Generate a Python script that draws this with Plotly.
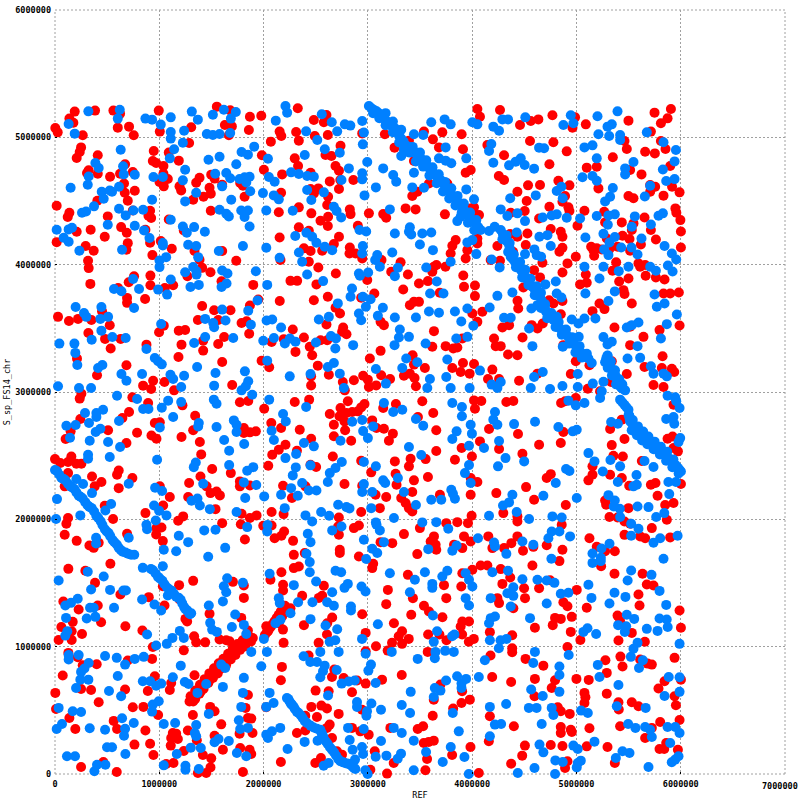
import plotly.graph_objects as go

# Values in thousands of bases: (REF position, S_sp_FS14_chr position)
x_ticks = [0, 1000000, 2000000, 3000000, 4000000, 5000000, 6000000, 7000000]
y_ticks = [0, 1000000, 2000000, 3000000, 4000000, 5000000, 6000000]

red_top_left = [(3,5073),(26,5039),(189,5202),(138,5147),(176,5115),(384,5210),(560,5210),(624,5186),(602,5076),(710,5084),(755,5016),(266,5016),(250,4921),(237,4885),(208,4838),(410,4859),(323,4741),(307,4720),(410,4714),(528,4691),(672,4788),(746,4728),(624,4714),(662,4638),(669,4565),(698,4502),(765,4581),(406,4502),(16,4463),(138,4408),(122,4374),(506,4379),(208,4259),(342,4274),(477,4219),(16,4177),(294,4146),(371,4109),(317,4031),(323,3973),(634,4295),(688,4251),(698,4169),(685,4117),(746,4426),(912,4424),(896,4384),(922,4366),(867,4274),(912,4172),(1014,4185),(934,4075),(1120,4125),(1091,4355),(1235,4269),(947,4893),(1091,4880),(938,4814),(970,4798),(1040,4775),(1187,4817),(1286,4955),(1306,5079),(1005,5045),(995,5210),(1552,5241),(1667,5016),(1629,5097),(1696,5086),(1680,5212),(1869,5162),(1978,5170),(1859,5058),(2070,4966),(1984,4859),(2003,4746),(1818,4534),(1776,4641),(1802,4620),(1603,4628),(1482,4604),(1494,4557),(1424,4534),(1325,4510),(1386,4683),(1354,4644),(1194,4615),(1210,4583),(1498,4707),(1530,4676),(1494,4424),(1082,4673),(1040,4714),(1002,4649),(1043,4615),(1338,4107),(1603,4107),(1738,4031),(1386,4039)]
blue_top_left = [(320,5204),(621,5217),(602,5147),(131,5105),(189,5029),(867,5147),(931,5139),(1110,5157),(1014,5100),(1110,5042),(1110,4990),(1238,5052),(1312,5202),(1370,5139),(1514,5178),(1619,5217),(1734,5199),(1686,5147),(1680,5034),(1578,5026),(1514,5018),(1456,5026),(1226,4958),(1142,4906),(1101,4835),(630,4903),(387,4798),(419,4759),(653,4772),(659,4709),(765,4707),(323,4693),(314,4628),(150,4604),(614,4612),(547,4573),(525,4583),(448,4573),(467,4518),(374,4458),(298,4418),(259,4408),(614,4439),(678,4387),(752,4426),(845,4431),(931,4510),(506,4314),(765,4306),(854,4269),(906,4209),(16,4274),(131,4277),(163,4290),(83,4211),(131,4180),(234,4109),(643,4117),(1110,4353),(1226,4300),(1264,4251),(1334,4295),(1437,4259),(1277,4156),(1354,4146),(1373,4059),(1034,4151),(1571,4107),(1802,4146),(2026,4133),(1002,4033),(1066,4059),(1002,3981),(1034,4170),(944,4688),(1034,4688),(1226,4662),(1248,4746),(1472,4824),(1578,4848),(1738,4788),(1789,4885),(1850,4864),(1910,4927),(2042,4832),(1536,4714),(1642,4720),(1680,4678),(1770,4673),(1818,4686),(1866,4690),(1834,4646),(1872,4576),(1994,4562),(1603,4615),(1354,4565),(1248,4497),(1690,4510),(1578,4431),(1642,4400),(1667,4379),(1786,4426),(1850,4426),(1818,4374),(1866,4300),(2026,4426),(2051,4688)]

red_bottom_left = [(90,1863),(208,1831),(330,1795),(371,1776),(419,1816),(688,1886),(970,1881),(1034,1829),(531,1651),(128,1611),(291,1596),(384,1501),(627,1410),(899,1389),(410,1323),(227,1292),(80,1355),(442,1192),(170,1195),(61,1155),(675,1161),(160,1121),(259,1100),(35,1053),(160,1053),(838,1127),(1050,1323),(1034,1475),(1190,1483),(1325,1517),(1194,1370),(1251,1218),(1267,1197),(1334,1081),(1354,1034),(1440,1034),(1235,971),(938,998),(128,951),(218,917),(266,854),(400,862),(74,773),(250,668),(346,660),(3,637),(672,663),(698,891),(931,904),(957,768),(890,652),(1114,715),(1101,660),(1338,775),(419,563),(10,511),(138,440),(563,417),(195,354),(595,354),(746,524),(848,527),(989,464),(867,341),(1274,341),(912,238),(762,231),(944,149),(250,55),(464,94),(592,16),(1130,322),(1162,317),(1114,283),(1178,275),(1110,223),(1235,181),(1360,265),(1418,149),(1498,123),(1491,52),(1450,8),(1370,8),(1136,86),(1066,79),(1322,464),(1488,527),(1530,493),(1530,301),(1594,390),(1610,191),(1776,204),(1866,191),(1882,157),(1802,16),(1770,317),(1894,322),(1850,440),(1882,435),(1827,519),(1850,621),(2026,524),(1706,1509),(1811,1480),(1811,1383),(1821,1841),(1482,1258),(1786,1226),(1578,1056),(1642,1051),(1674,1043),(1850,1127),(2026,1161),(2042,1121)]
blue_bottom_left = [(394,1855),(394,1810),(707,1855),(899,1894),(1187,1873),(1277,1821),(1043,1761),(1162,1750),(1632,1776),(1469,1706),(842,1619),(1034,1632),(314,1588),(467,1551),(35,1520),(346,1449),(528,1446),(656,1441),(680,1441),(1651,1537),(1802,1501),(1619,1475),(1642,1428),(2058,1572),(835,1370),(218,1376),(154,1344),(99,1323),(954,1331),(1082,1402),(336,1305),(371,1305),(566,1305),(1018,1284),(1610,1355),(1475,1323),(304,1221),(387,1234),(106,1226),(1728,1252),(1488,1187),(1696,1155),(1811,1171),(1507,1134),(1552,1116),(1834,1100),(118,1121),(99,1087),(883,1095),(1197,1124),(1235,1069),(1126,1069),(1072,1022),(970,1009),(2003,1061),(2032,959),(1882,959),(131,935),(131,899),(227,935),(480,927),(592,912),(765,904),(851,920),(672,859),(323,872),(282,828),(250,802),(1206,851),(1978,846),(1594,859),(1632,833),(602,770),(243,741),(320,741),(1811,755),(1130,760),(842,728),(912,728),(970,694),(1018,710),(1245,723),(1280,707),(1450,707),(1610,684),(202,676),(518,652),(634,610),(1366,637),(1802,637),(2058,637),(1786,527),(2026,527),(995,571),(938,545),(931,490),(35,519),(170,493),(250,487),(1475,472),(643,438),(67,393),(16,354),(333,359),(480,348),(672,356),(755,401),(662,301),(1043,393),(1152,401),(1354,385),(1341,322),(1354,296),(1763,422),(1776,354),(1850,362),(2026,309),(2042,283),(1530,249),(1568,275),(1667,259),(1302,207),(1398,204),(1744,165),(1834,139),(499,210),(547,210),(115,139),(192,139),(675,157),(1168,157),(403,73),(378,21),(483,73),(1043,68),(1251,65),(1251,34),(1379,39)]

red_bottom_right = [(4715,1797),(4587,1784),(4866,1761),(4837,1672),(4571,1645),(5125,1855),(5106,1803),(5195,1784),(5275,1750),(5368,1750),(5237,1632),(5461,1881),(5659,1855),(5909,1847),(5365,1572),(5634,1572),(5675,1488),(5739,1480),(4747,1522),(4651,1462),(5003,1446),(5595,1410),(5605,1323),(5099,1305),(4875,1349),(4914,1318),(5989,1284),(5394,1244),(5419,1200),(4795,1226),(4850,1218),(4955,1234),(4773,1169),(4597,1148),(4946,1116),(5038,1053),(5403,1048),(5656,1038),(5531,1108),(6002,1148),(4914,998),(5278,893),(5422,922),(5442,844),(5941,912),(5611,899),(5682,867),(5723,859),(4683,851),(5291,794),(4597,747),(5000,747),(5118,739),(4795,736),(4763,676),(4597,610),(5845,728),(6002,741),(5787,671),(5077,637),(5086,603),(5077,558),(5291,631),(5531,563),(5595,532),(5403,563),(5406,506),(4821,524),(4850,493),(4936,472),(5941,610),(5954,540),(5989,424),(5803,409),(5419,375),(5125,359),(4850,369),(4850,322),(4946,348),(4956,330),(5659,283),(5723,362),(5861,244),(5797,197),(5842,197),(5973,191),(4754,228),(4866,220),(5099,217),(5298,212),(5368,86),(4914,100),(4891,47)]
blue_bottom_right = [(5525,1873),(5595,1920),(5970,1873),(5810,1850),(5739,1816),(5317,1808),(5240,1771),(5154,1732),(5234,1698),(5234,1672),(5154,1658),(5835,1690),(4760,1690),(4581,1803),(4731,1847),(4763,1894),(4837,1881),(4933,1868),(4946,1829),(5525,1598),(5720,1564),(5491,1520),(5115,1486),(4626,1522),(4715,1520),(4789,1501),(5365,1423),(5797,1438),(4850,1415),(4923,1423),(5144,1383),(5470,1391),(5317,1339),(4715,1339),(5861,1328),(5483,1250),(5554,1218),(5797,1221),(5866,1213),(4555,1226),(5875,1155),(5400,1169),(5477,1161),(5675,1140),(5778,1124),(5464,1116),(5106,1145),(5067,1116),(5189,1100),(5586,1030),(5547,983),(5989,1022),(4597,959),(4926,935),(5522,920),(5637,893),(4581,872),(4837,844),(5205,857),(5600,833),(4837,778),(5221,762),(5885,762),(5989,760),(5403,699),(5989,645),(4837,645),(4677,613),(5845,613),(4555,658),(5387,532),(5664,519),(5045,498),(5109,479),(4763,519),(4779,464),(4603,519),(4667,393),(5496,393),(5566,362),(5659,369),(5707,348),(5723,291),(5874,369),(5947,369),(5989,322),(5899,244),(5173,254),(4971,223),(5013,197),(4651,228),(4683,170),(5442,178),(5509,165),(5378,126),(5979,139),(5947,113),(5914,92),(4798,107),(4869,94),(5042,105),(5013,86),(5003,52),(4587,47),(4795,0),(5691,55)]

red_upper_mid = [(2328,5228),(2091,4966),(2154,5045),(2170,5010),(2312,5042),(2338,4974),(2482,5136),(2578,5118),(2603,5176),(2491,5010),(2616,5018),(2946,5031),(2738,4934),(2594,4861),(2651,4853),(2299,4835),(2331,4775),(2178,4709),(2451,4722),(2690,4775),(2723,4738),(2635,4654),(2736,4665),(2861,4665),(2723,4594),(2451,4594),(2525,4599),(2483,4560),(2168,4565),(2619,4534),(2610,4468),(2338,4450),(2146,4411),(2458,4403),(2619,4376),(2546,4345),(2616,4303),(2827,4434),(2834,4397),(3010,4403),(3147,4397),(3176,4369),(3362,4442),(3458,4434),(3739,4395),(2904,4306),(2338,4293),(2154,4214),(2434,4266),(2723,4219),(2674,4162),(2827,4135),(2387,4128),(2451,4107),(2562,4109),(2824,4088),(2882,4088),(2946,4049),(2434,4023),(2162,4036),(2525,3978),(2693,3931),(2258,3873),(2322,3873),(2507,3845),(2994,3879),(3131,4036),(3314,4018),(3224,3944),(3384,3923),(3490,3852),(3576,3871),(3339,3805),(3632,3983),(3658,3997),(3618,3944),(3744,3983),(3915,3915),(4027,3837),(3922,3826),(3690,3779),(4027,3753),(2155,3714),(2482,3721),(2616,3748),(2936,3740),(3062,3774),(2690,3661),(2733,3617),(3490,3708),(3442,3708),(3403,3682),(2603,3530),(2763,3507),(2753,3473),(2795,3454),(2280,3491),(2387,3428),(3122,3551),(3154,3525),(3634,3478),(4002,3617),(4098,3630),(4050,3551),(4290,3507),(4354,3525),(4435,3716),(4442,3656),(4483,3428),(4626,3499),(4210,3420),(4226,3360),(4274,3360),(2104,3394),(2194,3415),(2546,3407),(2610,3407),(2443,3355),(2466,3289),(2306,3315),(3122,3323),(3618,3355),(3746,3360),(3819,3342),(3858,3349),(3906,3420),(3019,3263),(3429,3289),(4344,3294),(4434,3289),(4050,5223),(4075,5162),(4267,5215),(4459,5097),(4562,5128),(4635,5141),(4555,4971),(3538,5045),(3714,5039),(3899,5024),(3624,4984),(3682,4921),(3912,4906),(3256,4919),(3163,5024),(3394,4974),(3442,4814),(4306,4859),(4146,4940),(4256,4696),(4306,4665),(4536,4623),(4651,4625),(4434,4573),(4523,4500),(4504,4421),(4370,4408),(4642,4363),(4530,4245),(4434,4219),(4363,4240),(4242,4146),(4514,4154),(4392,4101),(4267,4031),(4178,4036),(4594,3957),(4491,3821),(4651,3900),(3810,4149),(3794,4088),(3842,4193),(3954,4114),(3938,4049),(4050,4167),(4050,4206),(4018,4450),(4066,4390),(3986,4442),(3586,4638),(3762,4638),(3474,4573),(3426,4539),(3986,4743),(3938,4722)]
blue_upper_mid = [(2210,5246),(2226,5194),(2117,5131),(2408,5047),(2558,5181),(2654,5118),(2706,5047),(2779,5102),(2832,5092),(2946,5128),(2962,5037),(2952,4945),(2515,4979),(2587,4906),(2395,4861),(2731,4879),(2994,4806),(2818,4756),(2946,4717),(2946,4670),(2264,4725),(2338,4712),(2418,4696),(2482,4691),(2074,4678),(2106,4652),(2747,4665),(3147,4756),(3243,4704),(3272,4652),(3077,4607),(2418,4586),(2578,4568),(2968,4544),(2098,4544),(2146,4513),(2458,4508),(2280,4424),(2674,4455),(2700,4421),(2744,4371),(3211,4434),(2920,4272),(2984,4261),(2411,4251),(2466,4219),(2507,4172),(2304,4225),(2587,4141),(2658,4114),(2339,4096),(2952,4146),(2946,4088),(2154,4054),(2370,4023),(3090,4075),(3070,4036),(3115,3983),(3234,4096),(3259,4245),(3403,4293),(3394,4258),(3416,4237),(3522,4245),(3608,4253),(3499,4159),(3624,4114),(3288,3976),(3259,3910),(3560,3978),(3794,4023),(2914,3931),(3003,3939),(2924,3913),(2418,3923),(2571,3871),(3661,3868),(3725,3774),(3597,3774),(2848,3813),(2834,3748),(2952,3748),(3026,3729),(2981,3669),(2712,3696),(3144,3661),(3096,3598),(2914,3617),(2936,3564),(3259,3585),(3461,3585),(3586,3632),(3682,3622),(3835,3632),(3954,3656),(4168,3664),(4242,3755),(4386,3782),(3896,3554),(4011,3520),(4306,3583),(4370,3583),(4546,3499),(4568,3656),(4626,3682),(2530,3570),(2626,3590),(3307,3491),(3298,3428),(3394,3433),(3256,3368),(2859,3368),(2694,3420),(2646,3439),(2502,3389),(2688,3342),(2306,3394),(2252,3420),(2204,3381),(2117,3420),(2168,3507),(2098,3570),(3554,3381),(3954,3433),(3848,3420),(4578,3360),(3368,3263),(3762,3255),(3608,5118),(3736,5141),(3794,5102),(4002,5118),(4050,5102),(4203,5084),(4258,5052),(4290,5141),(4344,5141),(4510,5157),(3442,5024),(3531,5018),(3320,4853),(3746,4921),(3442,4722),(3944,4835),(3682,4835),(3746,4817),(3800,4796),(4203,4801),(4162,4893),(4184,4948),(4354,4780),(4418,4809),(4466,4835),(4504,4783),(4594,4754),(4642,4919),(3426,4607),(3538,4604),(3944,4591),(4018,4513),(4274,4434),(4365,4521),(4610,4544),(4338,4382),(4434,4403),(4507,4342),(3858,4342),(3890,4376),(4162,4264),(4216,4298),(4427,4253),(3954,4175),(4002,4193),(4040,4083),(4187,4041),(4264,3978),(4507,4083)]

red_upper_right = [(5906,5223),(5749,5194),(5874,5149),(5810,5110),(5499,5131),(5090,5102),(4962,5076),(4987,5157),(4770,5173),(4645,5141),(5714,5045),(4779,4961),(5810,4971),(5461,4971),(5483,4908),(5659,4887),(5752,4874),(5854,4908),(4907,4890),(5349,4843),(4741,4788),(5195,4769),(5099,4762),(5899,4775),(5515,4743),(5624,4709),(4827,4659),(4658,4623),(4933,4623),(5211,4599),(5707,4625),(5755,4612),(5917,4612),(5707,4573),(5989,4568),(5835,4542),(5499,4539),(5547,4521),(4891,4539),(4866,4494),(4741,4455),(4923,4450),(4933,4421),(5077,4424),(5266,4416),(5949,4442),(5958,4408),(5997,4350),(5653,4371),(5435,4332),(5275,4332),(5010,4306),(4654,4314),(4674,4408),(4754,4280),(4850,4259),(4866,4219),(5547,4324),(5531,4272),(5714,4272),(6002,4261),(5762,4198),(5442,4227),(5291,4206),(5509,4201),(5618,4159),(6002,4135),(5394,4141),(4866,4133),(4837,4101),(5141,4141),(5163,4114),(5195,4128),(5170,4070),(5243,4120),(5314,4120),(5515,4109),(4994,4062),(4674,4015),(4914,4010),(5381,4018),(5595,4010),(5611,3983),(5659,3997),(5346,3952),(5664,3913),(5762,3900),(5845,3884),(4866,3939),(5090,3923),(4587,3957),(4645,3892),(5035,3845),(5099,3858),(5410,3868),(5499,3892),(5451,3800),(5461,3769),(5835,3774),(5899,3774),(5982,3782),(5531,3695),(5221,3695),(5269,3651),(5154,3635),(4738,3721),(4779,3695),(4866,3714),(4850,3611),(4571,3525),(4635,3499),(4677,3538),(5365,3507),(5643,3433),(5515,3368),(5515,3512),(5797,3486),(5989,3522),(5826,3281),(4875,3368)]
blue_upper_right = [(5394,5204),(4946,5173),(5202,5165),(4875,5097),(4971,5110),(5339,5102),(5298,5084),(5211,5024),(5314,5010),(5419,5018),(5419,4979),(5675,5039),(5835,4961),(5954,4900),(5077,4921),(5154,4937),(4651,4919),(4690,4914),(5195,4835),(5547,4806),(5941,4811),(5467,4756),(5467,4709),(5829,4748),(4587,4756),(5058,4686),(5154,4696),(5195,4659),(5861,4657),(5941,4672),(4856,4612),(4811,4578),(5349,4602),(5707,4620),(5656,4536),(4606,4542),(4869,4521),(5323,4534),(5275,4497),(4811,4395),(4763,4387),(4677,4371),(4907,4369),(5035,4363),(5195,4382),(5307,4387),(5368,4395),(5301,4314),(5560,4379),(5787,4384),(5829,4403),(5714,4316),(5531,4298),(5086,4214),(5259,4243),(5368,4217),(5317,4175),(5624,4206),(4722,4232),(4645,4219),(4754,4146),(5429,4135),(5528,4135),(5266,4120),(5307,4075),(5845,4146),(5915,4088),(5586,4080),(5957,4041),(4597,4120),(4619,4075),(4661,4062),(5077,3983),(5259,3983),(5499,3983),(5707,3983),(5762,3952),(5877,3994),(5922,3947),(5406,3949),(5221,3892),(4702,3845),(4802,3868),(5086,3774),(5368,3790),(5749,3766),(4811,3774),(4856,3742),(5307,3714),(5845,3695),(5771,3669),(4603,3682),(4555,3656),(4709,3630),(4747,3590),(4811,3590),(5077,3577),(5182,3577),(4955,3570),(5019,3538),(5963,3609),(5867,3533),(5595,3546),(5531,3525),(5483,3507),(5259,3431),(5339,3394),(5298,3373),(5810,3420),(5586,3360),(4571,3360),(4869,3355),(5022,3433),(5298,3284),(5490,3263),(5611,3268)]

red_centre = [(2482,3241),(2520,3207),(2626,3136),(2456,3123),(2456,3052),(2760,3079),(2779,3013),(2866,3092),(2994,3215),(2955,3128),(3000,3097),(3010,3039),(3080,3052),(3128,3131),(3213,3102),(3346,3128),(3403,3144),(3442,3215),(3547,3189),(3448,3110),(3461,3045),(3810,3189),(3890,3157),(3912,3228),(4018,3220),(3976,3144),(4194,3176),(4152,3102),(4258,3102),(4450,3089),(4626,3144),(2437,2940),(2299,2921),(2808,2927),(2635,2827),(2738,2874),(2728,2809),(2795,2835),(2850,2843),(2904,2848),(2936,2879),(2968,2906),(2776,2769),(2782,2699),(2674,2743),(2674,2652),(2840,2617),(2347,2704),(2168,2717),(2082,2756),(2456,2633),(2210,2586),(2146,2547),(2098,2507),(2320,2539),(2664,2494),(2504,2411),(2450,2429),(3147,2874),(3269,2906),(3042,2777),(3154,2712),(3083,2717),(3240,2673),(3202,2617),(3522,2927),(3480,2804),(3627,2835),(3656,2699),(3656,2536),(3259,2455),(3410,2476),(3394,2416),(3554,2473),(2936,2460),(3032,2369),(3266,2358),(3275,2272),(3442,2306),(3576,2332),(2776,2277),(2946,2264),(2187,2264),(2272,2167),(2402,2259),(3074,2193),(3176,2175),(3320,2167),(3426,2214),(3362,2128),(3394,2088),(3426,2062),(2936,2057),(3115,2088),(2088,2057),(2192,2041),(2722,2015),(3691,2193),(3986,2193),(4232,2206),(3995,2028),(4594,2154),(4517,2253),(4299,2049),(4434,1983),(4434,2023),(4018,2934),(4088,2929),(4027,2869),(4328,2921),(4395,2929),(4162,2709),(4440,2670),(4075,2612),(4258,2552),(3899,2560),(3835,2468),(3998,2494),(4482,2515),(4642,2586),(3986,2324),(4050,2293),(2197,1905),(2171,1871),(2106,1852),(2283,1831),(2395,1735),(2290,1721),(2731,1761),(2731,1735),(2722,1879),(2715,1944),(2866,1931),(2914,1952),(2914,1708),(3122,1821),(3234,1813),(3346,1884),(3474,1727),(3499,1931),(3634,1866),(3650,1800),(3656,1761),(3602,1826),(3752,1970),(3858,1978),(3960,1970),(3922,1866),(3906,1774),(3986,1826),(3826,1800),(4155,1866),(4194,1774),(4306,1774),(4376,1813),(4434,1866),(4488,1753),(4578,1638),(4082,1638),(4146,1638),(4274,1609),(4002,1604),(3906,1577),(4365,1543),(4290,1493),(4498,1459),(4507,1381),(4242,1381),(4258,1342),(4395,1302),(4642,1459),(2171,1585),(2290,1617),(2338,1630),(2066,1525),(2187,1486),(2187,1441),(2370,1399),(2562,1399),(2578,1478),(2530,1383),(3042,1617),(3051,1651),(3192,1446),(3176,1334),(2946,1255),(3384,1564),(3432,1381),(3538,1321),(3586,1276),(3752,1381),(3730,1483),(3896,1473),(3715,1231),(3250,1184),(3416,1250),(3906,1198),(3970,1198),(3890,1158),(2194,1302),(2258,1302),(2178,1237),(2146,1184),(2387,1169),(2658,1229),(2610,1184)]
blue_centre = [(2251,3123),(2450,3141),(2616,3196),(2674,3228),(2731,3144),(2770,3031),(3077,3181),(3173,3066),(3362,3254),(3330,3189),(3474,3233),(3595,3102),(3570,3031),(3752,3118),(3794,3031),(3976,3031),(4075,3168),(4187,3058),(4242,3031),(4274,3079),(4562,3031),(4594,3118),(2066,2934),(2408,2882),(2187,2827),(2213,2769),(2098,2704),(2117,2625),(2387,2599),(2482,2573),(2738,2617),(2850,2767),(2946,2780),(2955,2693),(3000,2638),(3051,2730),(3154,2914),(3243,2843),(3330,2861),(3461,2788),(3531,2735),(3810,2914),(3902,2882),(3902,2809),(3851,2691),(3810,2631),(3998,2673),(3986,2743),(4219,2843),(4203,2783),(4242,2743),(4402,2748),(4603,2767),(4258,2615),(4114,2560),(3970,2578),(3394,2568),(3512,2505),(4320,2481),(4499,2455),(4248,2416),(3970,2426),(3931,2363),(3986,2285),(2210,2481),(2312,2513),(2309,2408),(2450,2424),(2280,2345),(2750,2450),(2690,2403),(2635,2363),(2616,2293),(2962,2450),(3077,2416),(3147,2306),(3166,2285),(3288,2324),(2962,2277),(2946,2214),(3042,2214),(3346,2214),(3461,2112),(3608,2154),(3704,2154),(3800,2232),(3816,2201),(3835,2162),(2370,2285),(2264,2245),(2168,2193),(2328,2185),(2434,2227),(2507,2227),(2203,2088),(2552,2057),(2629,2028),(2715,2114),(2795,2096),(2824,2086),(3032,2088),(2402,2031),(2466,1983),(3250,2010),(3522,1976),(3656,1978),(3771,1926),(4162,2028),(4427,2057),(4546,2002),(4296,2109),(4354,2133),(4386,2193),(2747,1944),(2658,1913),(3077,1976),(3083,1957),(3115,1913),(2424,1887),(2450,1821),(2962,1839),(3154,1821),(3042,1769),(3090,1735),(2984,1688),(2411,1729),(2443,1664),(3579,1766),(3810,1753),(3851,1795),(4056,1852),(4210,1818),(4219,1787),(4328,1729),(4482,1826),(4587,1800),(2443,1585),(2690,1596),(2744,1585),(3211,1577),(3547,1585),(3451,1525),(3762,1596),(3714,1551),(3938,1577),(3970,1525),(4002,1473),(4194,1585),(4344,1596),(4482,1530),(4626,1525),(2504,1512),(2290,1483),(2808,1493),(2776,1462),(2939,1473),(2978,1433),(2658,1428),(2610,1349),(2674,1321),(3618,1493),(3618,1462),(3403,1428),(4395,1467),(4338,1420),(4395,1399),(4178,1381),(3938,1381),(3970,1323),(4370,1316),(2146,1381),(2155,1342),(2331,1349),(2469,1349),(2838,1316),(2838,1284),(2258,1263),(2162,1211),(2114,1184),(2450,1216),(2594,1166),(2706,1137),(3096,1176),(3624,1245),(4178,1224),(4219,1237),(4162,1184),(4555,1224)]

red_mid_left = [(326,3975),(339,3849),(29,3590),(134,3558),(221,3574),(349,3566),(451,3634),(320,3464),(525,3524),(480,3417),(534,3341),(630,3417),(211,3262),(403,3131),(605,3817),(707,3862),(758,3909),(691,3739),(691,3700),(864,3731),(915,3914),(915,3838),(1053,3817),(1133,3838),(1270,3909),(1411,3975),(1491,3941),(1597,3870),(1901,3841),(1411,3676),(1526,3642),(1683,3642),(1370,3566),(1565,3566),(1869,3679),(1949,3726),(1789,3542),(1837,3555),(1862,3458),(998,3469),(1043,3521),(1187,3482),(1248,3487),(1213,3372),(1622,3432),(1565,3377),(1421,3403),(1421,3325),(877,3372),(1184,3275),(1603,3236),(1981,3246),(2054,3194),(685,3210),(941,3089),(845,3050),(922,3024),(1050,3079),(1142,3013),(1699,3055),(2077,3393),(253,2987),(237,2948),(742,2958),(893,2914),(1222,2895),(1773,2919),(1853,2929),(2006,2869),(710,2843),(646,2796),(243,2788),(1344,2814),(957,2756),(1005,2762),(1325,2699),(509,2699),(787,2680),(925,2659),(973,2633),(1213,2646),(150,2691),(102,2631),(1389,2607),(1811,2717),(1811,2678),(1869,2683),(1926,2691),(2074,2756),(685,2599),(157,2494),(0,2473),(51,2442),(125,2450),(205,2437),(253,2437),(125,2363),(1402,2510),(2083,2507),(611,2384),(595,2350),(1507,2395),(1686,2363),(2045,2421),(355,2337),(445,2293),(381,2259),(742,2324),(611,2245),(93,2259),(1395,2337),(1286,2285),(1453,2259),(1491,2206),(1549,2219),(1581,2188),(1773,2298),(1773,2259),(1869,2266),(1005,2259),(1101,2175),(1277,2175),(1037,2109),(867,2049),(477,2107),(557,2002),(1539,2080),(2077,2057),(125,2010),(109,1965),(1869,2010),(1933,2031),(1789,2044),(1229,2023),(1181,1989),(1603,1970),(1782,1962),(1997,1949),(973,1931),(2077,1952),(1021,1936),(691,1886),(93,1879),(323,4040),(1389,4040),(1741,4040)]
blue_mid_left = [(1027,4009),(998,3982),(1248,3941),(1325,3982),(1357,3948),(1357,3922),(1603,3954),(1654,3930),(1926,3948),(2035,3841),(1110,3883),(1379,3841),(1299,3825),(749,3888),(566,3809),(637,3791),(806,3809),(989,3804),(1075,3765),(1645,3852),(1597,3825),(758,3660),(1942,3718),(1853,3639),(1603,3647),(198,3668),(445,3668),(278,3621),(301,3590),(509,3590),(435,3574),(1440,3574),(1517,3542),(1526,3508),(1635,3561),(1878,3529),(2029,3561),(2083,3569),(1018,3534),(445,3482),(550,3432),(678,3424),(352,3411),(42,3380),(186,3380),(1334,3385),(1440,3432),(1709,3424),(1997,3403),(2099,3424),(195,3307),(214,3212),(877,3338),(957,3267),(989,3241),(1024,3217),(454,3212),(413,3188),(1363,3196),(2035,3246),(1539,3149),(1821,3162),(637,3141),(835,3141),(1107,3136),(1133,3102),(1238,3128),(685,3089),(1853,3084),(1830,3045),(1789,3013),(1526,3050),(1210,3039),(29,3045),(230,3031),(346,3031),(595,2971),(787,2945),(1891,2979),(2054,2940),(1085,2932),(1024,2877),(1210,2921),(1523,2940),(1549,2908),(896,2866),(845,2866),(461,2861),(397,2835),(397,2804),(288,2835),(1133,2804),(614,2772),(326,2756),(109,2735),(198,2741),(1379,2756),(1373,2730),(1549,2725),(1005,2722),(1715,2777),(1741,2743),(1741,2686),(435,2712),(390,2686),(2077,2696),(144,2641),(333,2617),(509,2607),(624,2568),(1622,2623),(1814,2591),(2099,2623),(1670,2539),(317,2507),(317,2476),(525,2489),(979,2468),(1350,2447),(1331,2410),(1670,2426),(1901,2410),(1843,2382),(205,2316),(269,2277),(707,2280),(1421,2280),(1811,2290),(1930,2269),(960,2248),(1027,2222),(355,2206),(19,2159),(1366,2164),(1309,2146),(1389,2109),(1485,2080),(1824,2167),(2006,2180),(950,2109),(998,2067),(1069,2031),(538,2120),(483,2070),(243,2031),(1741,2057),(10,2002),(966,1991),(877,1957),(883,1923),(1843,1939),(2038,1955),(2035,1905),(1431,1913),(1539,1918),(1187,1871)]

red_bottom_mid = [(2384,1174),(2186,1134),(2192,1030),(2528,1030),(2608,1095),(2672,1226),(2624,1187),(2944,1258),(2979,1108),(2979,964),(3078,1003),(3248,1187),(3414,1252),(3328,1121),(3296,1082),(3232,1030),(3328,1022),(3392,1061),(3190,969),(3578,1095),(3574,959),(3712,1234),(3686,1095),(3754,1051),(3888,1161),(3958,1200),(3904,1095),(3968,1038),(4016,1061),(4170,1114),(4384,1090),(4384,988),(4384,956),(4512,904),(4602,1148),(4176,930),(2432,930),(2176,841),(2166,736),(2656,762),(2678,820),(2768,754),(2896,734),(2979,710),(3136,741),(3325,778),(2499,655),(2624,650),(2848,642),(3696,702),(3632,584),(3904,650),(3898,558),(3978,584),(4192,762),(4374,723),(4602,747),(4598,610),(2022,532),(2458,527),(2554,537),(2608,514),(2720,472),(2512,448),(2400,458),(3818,514),(3622,458),(4170,453),(4400,375),(2634,388),(2608,362),(2320,322),(2400,341),(2656,283),(2848,362),(2928,335),(3008,309),(3216,362),(3478,354),(3530,375),(4160,257),(4506,223),(4480,144),(3984,212),(3808,149),(3536,244),(3584,252),(3632,262),(3066,178),(3568,118),(3248,86),(3552,29),(2704,178),(2752,152),(2550,126),(2496,86),(2166,94),(4374,81),(3184,3),(4064,8),(3024,34),(2944,505)]
blue_bottom_mid = [(2448,1218),(2237,1265),(2112,1200),(2586,1169),(2704,1140),(2832,1292),(3094,1182),(3622,1252),(3664,1121),(3632,1038),(2944,1061),(2634,1038),(2688,1051),(2010,1061),(2051,959),(2544,959),(2720,959),(2384,925),(2979,945),(3229,959),(3648,959),(3741,967),(3824,959),(3642,909),(3478,904),(2448,880),(2512,880),(1984,846),(2586,851),(2570,807),(2544,760),(2701,817),(3030,859),(3005,812),(2874,734),(2816,726),(2749,710),(3075,715),(3856,768),(3942,747),(3898,710),(3898,676),(3750,734),(4064,762),(2096,684),(2090,637),(3411,645),(3642,676),(3696,655),(3632,605),(2618,616),(2096,558),(2054,532),(2896,566),(2896,527),(3034,553),(3325,542),(2992,493),(2986,458),(3126,505),(3405,479),(3814,479),(4170,527),(4326,550),(4544,519),(4618,519),(4566,663),(4560,1226),(4218,1239),(4176,1161),(4170,1051),(4256,988),(4272,1051),(4330,1061),(4602,959),(4586,872),(4122,893),(3830,1095),(3808,1082),(4218,388),(4278,393),(2960,354),(2810,362),(3248,362),(3325,322),(3872,335),(4170,296),(3440,262),(3126,259),(2394,252),(2518,262),(2826,267),(2230,197),(2944,212),(2854,191),(2954,157),(3558,173),(3795,212),(3926,134),(3318,160),(3286,120),(3178,144),(3075,136),(3718,94),(4646,231),(4598,47),(4438,8),(3968,0),(3440,29),(2624,86),(2576,65),(2877,113),(2032,309),(2080,335),(2160,362),(2048,283),(2976,29),(2998,0)]

red_mid_right = [(4994,3241),(5125,3210),(4946,3141),(5826,3286),(5653,3196),(5819,3189),(5915,3183),(5938,3157),(5483,3141),(5339,3241),(5739,3055),(5835,3039),(5109,3026),(5333,3079),(5227,3005),(4994,2953),(4853,2914),(4891,2927),(5931,2900),(5435,2783),(4875,2686),(5323,2709),(5461,2631),(4658,2612),(4645,2568),(4850,2599),(5339,2583),(5874,2633),(5922,2651),(5931,2560),(5973,2534),(5355,2500),(5445,2494),(5627,2458),(5154,2416),(5154,2350),(5115,2306),(5323,2350),(4754,2355),(4715,2324),(5435,2324),(5506,2264),(5714,2272),(5758,2285),(6002,2277),(5778,2185),(4587,2154),(4898,2112),(5275,2148),(5285,2114),(5499,2088),(5851,2112),(5931,2128),(5317,2018),(5394,2015),(5461,1983),(5515,1965),(5867,1997),(5723,1931),(4859,1957),(5125,1852),(5461,1878),(5611,1866),(5659,1852),(5899,1858)]
blue_mid_right = [(4587,3123),(4677,3157),(4747,3024),(4866,3047),(5013,3039),(5013,3141),(5157,3066),(5259,3081),(5243,3005),(5227,2953),(5077,2914),(4994,2895),(4923,2932),(5490,3254),(5618,3267),(5714,3202),(5739,3144),(5835,3144),(5867,3123),(5874,2971),(5947,2958),(5957,2927),(5989,2874),(5861,2788),(5931,2804),(5938,2751),(5333,2764),(5397,2751),(4603,2767),(4827,2725),(4965,2691),(5003,2704),(5995,2638),(5979,2607),(5115,2520),(5173,2455),(5326,2466),(5653,2458),(5419,2416),(5739,2411),(4901,2395),(4933,2379),(5253,2376),(4802,2285),(5576,2348),(5397,2293),(5579,2272),(5547,2259),(5882,2293),(5954,2293),(4683,2185),(5003,2167),(5307,2190),(5890,2198),(5368,2148),(5358,2101),(5416,2083),(5586,2101),(5691,2096),(5765,2018),(5842,2049),(5419,2018),(4770,2023),(4859,2015),(4555,2002),(5525,1965),(5595,1926),(4763,1905),(4837,1905),(4939,1866),(5525,1871),(5970,1871),(5803,1852),(4731,1852)]

blue_synteny = [
    (0,2388),(40,2352),(80,2318),(125,2280),(165,2250),(205,2212),(245,2178),(290,2135),(330,2098),(375,2062),(415,2010),(455,1955),(495,1905),(530,1868),(570,1820),(610,1778),(650,1745),(700,1730),(760,1722),
    (920,1610),(965,1575),(1005,1535),(1050,1490),(1095,1450),(1140,1415),(1185,1385),(1220,1340),(1250,1295),(1285,1265),(1306,1262),
    (2224,597),(2250,570),(2272,545),(2300,510),(2336,479),(2375,440),(2416,401),(2480,365),(2544,348),(2560,315),(2576,283),(2615,235),(2656,191),(2695,145),(2736,100),(2775,88),(2816,81),(2850,60),(2880,39),
    (3010,5246),(3060,5215),(3106,5189),(3145,5155),(3186,5123),(3235,5085),(3282,5045),(3320,4990),(3362,4940),(3442,4890),(3480,4855),(3522,4822),(3570,4775),(3618,4730),(3658,4695),(3698,4665),(3745,4612),(3794,4560),(3842,4512),(3890,4468),(3938,4415),(3986,4363),(4035,4318),(4082,4272),
    (4274,4272),(4315,4212),(4354,4154),(4365,4105),(4370,4062),(4410,4022),(4450,3983),(4490,3930),(4530,3879),(4578,3826),(4626,3774),(4651,3748),(4680,3690),(4715,3630),(4780,3565),(4843,3499),(4890,3460),(4939,3420),(4980,3375),(5019,3328),(5067,3295),(5115,3263),(5147,3228),
    (5275,3233),(5298,3286),(5310,3245),(5323,3202),(5347,3170),(5371,3136),(5395,3090),(5419,3045),(5443,3025),(5467,3013),
    (5419,2940),(5460,2900),(5499,2861),(5507,2815),(5515,2769),(5555,2730),(5595,2691),(5635,2658),(5675,2625),(5723,2592),(5771,2560),(5819,2527),(5867,2494),(5907,2462),(5947,2429),(5975,2402),(6002,2376),
]
blue_synteny_fill = [
    (20,2378),(62,2325),(100,2306),(148,2258),(186,2238),(228,2186),(266,2164),(312,2110),(352,2088),(396,2028),(438,1985),(478,1922),(514,1892),(552,1838),(592,1802),(632,1758),(676,1740),(730,1722),
    (940,1600),(988,1548),(1030,1518),(1074,1464),(1118,1440),(1162,1392),(1205,1368),(1238,1312),(1268,1285),(1295,1255),
    (2238,588),(2262,552),(2288,528),(2320,488),(2358,460),(2396,414),(2450,380),(2512,355),(2552,330),(2570,298),(2598,255),(2636,210),(2676,170),(2716,118),(2756,94),(2796,82),(2835,72),(2866,48),
    (3035,5228),(3084,5205),(3126,5170),(3165,5140),(3210,5098),(3260,5072),(3300,5010),(3342,4968),(3400,4925),(3462,4872),(3500,4842),(3546,4796),(3594,4752),(3640,4710),(3678,4680),(3720,4638),(3770,4585),(3818,4534),(3868,4488),(3914,4442),(3962,4390),(4010,4340),(4058,4295),
    (4295,4240),(4334,4182),(4360,4128),(4392,4042),(4430,4004),(4470,3955),(4510,3904),(4554,3850),(4602,3800),(4665,3720),(4698,3660),(4748,3598),(4812,3532),(4866,3478),(4915,3440),(4960,3398),(5000,3352),(5043,3310),(5090,3278),
    (5285,3260),(5316,3224),(5335,3185),(5360,3152),(5383,3112),(5408,3068),(5432,3032),
    (5440,2920),(5480,2880),(5510,2792),(5535,2750),(5575,2710),(5615,2674),(5655,2640),(5700,2608),(5747,2576),(5795,2544),(5843,2510),(5888,2478),(5928,2446),(5962,2414),(5990,2388),
]
blue_synteny_wide = [
    (3050,5190),(3110,5150),(3170,5095),(3240,5040),(3300,4960),(3345,4905),(3430,4925),(3500,4880),(3560,4820),(3620,4765),(3680,4710),(3740,4650),(3800,4600),(3860,4540),(3920,4480),(3980,4410),(4040,4350),
    (3170,5190),(3240,5125),(3320,5060),(3400,4880),(3460,4810),(3530,4770),(3590,4700),(3660,4640),(3720,4575),(3780,4520),(3840,4465),(3900,4410),(3960,4330),(4020,4270),
    (4330,4230),(4290,4200),(4345,4100),(4400,4080),(4460,4020),(4510,3960),(4560,3890),(4620,3830),(4660,3780),
    (4360,4170),(4420,3980),(4480,3900),(4540,3840),(4600,3760),(4660,3660),(4720,3580),(4800,3510),(4860,3450),(4930,3380),(4990,3310),(5050,3270),
    (4700,3690),(4760,3620),(4830,3550),(4900,3490),(4960,3430),(5030,3360),(5100,3300),
    (5500,2820),(5540,2780),(5590,2730),(5640,2690),(5690,2650),(5750,2610),(5810,2570),(5870,2530),(5930,2470),
    (5530,2700),(5580,2660),(5630,2620),(5680,2590),(5740,2550),(5800,2510),(5860,2460),(5920,2410),(5980,2360),
    (5330,3240),(5370,3170),(5410,3100),(5440,3060),(5300,3190),(5340,3130),(5380,3060),
]
red_synteny = [(1290,570),(1330,610),(1370,650),(1410,690),(1450,735),(1495,770),(1540,810),(1580,845),(1620,880),(1660,915),(1700,945),(1745,985),(1790,1015),(1840,1040),(1897,1068),
               (1310,585),(1352,635),(1392,668),(1432,718),(1472,748),(1518,795),(1560,825),(1600,868),(1640,895),(1680,935),(1722,962),(1768,1005),(1815,1030),(1870,1055),
               (1325,570),(1400,650),(1480,735),(1560,805),(1640,870),(1720,940),(1810,1000),
               (1300,610),(1345,655),(1390,700),(1435,745),(1480,790),(1525,830),(1570,870),(1615,905),(1660,945),(1705,985),(1750,1020),(1800,1050),(1860,1080),
               (1345,590),(1385,630),(1425,670),(1470,715),(1515,755),(1560,790),(1600,830),(1640,855),(1685,900),(1730,935),(1775,975),(1825,1010),(1880,1040),
               (2013,1092),(2050,1135),(2085,1175),(2125,1225),(2165,1275),(2205,1322),(2032,1114),(2068,1155),(2105,1200),(2145,1250),(2185,1298)]


def merge(*groups):
    """Same dot read twice from overlapping crops counts once."""
    kept = []
    for group in groups:
        seen = list(kept)
        for p in group:
            if not any(abs(p[0] - q[0]) < 40 and abs(p[1] - q[1]) < 50 for q in seen):
                kept.append(p)
    return kept


red_points = red_synteny + merge(red_top_left, red_mid_left, red_bottom_left, red_upper_mid, red_centre,
                                 red_bottom_mid, red_upper_right, red_mid_right, red_bottom_right)
blue_points = (merge(blue_top_left, blue_mid_left, blue_bottom_left, blue_upper_mid, blue_centre, blue_bottom_mid,
                     blue_upper_right, blue_mid_right, blue_bottom_right)
               + blue_synteny + blue_synteny_fill + blue_synteny_wide)

fig = go.Figure()
for pts, colour, name in ((red_points, "#ff0000", "forward"), (blue_points, "#0080ff", "reverse")):
    fig.add_trace(go.Scatter(
        x=[p[0] * 1000 for p in pts], y=[p[1] * 1000 for p in pts], mode="markers", name=name, cliponaxis=False,
        marker=dict(size=10, color=colour, line=dict(width=0)), hoverinfo="skip"))

tick_font = dict(family="DejaVu Sans Mono", size=8.5, color="black", weight="bold")
title_font = dict(family="DejaVu Sans Mono", size=8.5, color="black")
grid_grey = "#a0a0a0"
dash = "2px,2px"
axis = dict(showgrid=True, gridcolor=grid_grey, griddash=dash, gridwidth=1, zeroline=False, showline=False,
            ticks="inside", ticklen=2, tickcolor="black", tickwidth=1, tickfont=tick_font,
            ticklabeloverflow="allow", ticklabelstandoff=3)
frame = [dict(type="line", xref="paper", yref="paper", x0=a, y0=b, x1=c, y1=d, layer="below",
              line=dict(color=grid_grey, width=1, dash=dash))
         for a, b, c, d in ((0, 0, 1, 0), (0, 1, 1, 1), (0, 0, 0, 1), (1, 0, 1, 1))]
# The last x label sits at the page edge, so it is right-aligned to stay whole.
x_labels = [str(v) for v in x_ticks[:-1]] + [""]
last_label = dict(x=1, y=0, xref="paper", yref="paper", xanchor="right", yanchor="top", xshift=15, yshift=-5,
                  text=str(x_ticks[-1]), showarrow=False, font=tick_font)
fig.update_layout(
    width=800, height=800, showlegend=False, paper_bgcolor="white", plot_bgcolor="white",
    margin=dict(l=55, r=15, t=10, b=26), shapes=frame, annotations=[last_label],
    xaxis=dict(range=[0, 7000000], tickvals=x_ticks, ticktext=x_labels,
               title=dict(text="REF", font=title_font, standoff=5), automargin=False, **axis),
    yaxis=dict(range=[0, 6000000], tickvals=y_ticks, ticktext=[str(v) for v in y_ticks],
               title=dict(text="S_sp_FS14_chr", font=title_font, standoff=3), automargin=False, **axis),
)
fig.write_html("out.html", config=dict(displayModeBar=False),
               post_script="document.body.style.margin='0';document.documentElement.style.overflow='hidden';")
